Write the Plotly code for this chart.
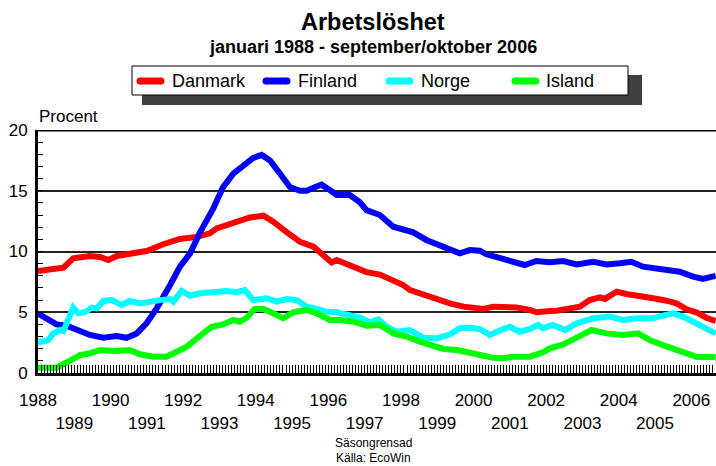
import plotly.graph_objects as go

# ---- data (decimal year, percent) ----
dk_t = [1988.0, 1988.3, 1988.7, 1988.97, 1989.2, 1989.43, 1989.71, 1989.94, 1990.17, 1990.53, 1990.99,
        1991.45, 1991.91, 1992.37, 1992.74, 1992.92, 1993.38, 1993.84, 1994.21, 1994.48, 1994.85, 1995.22,
        1995.59, 1995.95, 1996.09, 1996.23, 1996.50, 1996.78, 1997.05, 1997.42, 1997.70, 1998.06, 1998.25,
        1998.52, 1998.80, 1999.07, 1999.35, 1999.72, 2000.27, 2000.54, 2000.82, 2001.18, 2001.55, 2001.74,
        2002.11, 2002.29, 2002.66, 2002.93, 2003.20, 2003.48, 2003.62, 2003.94, 2004.21, 2004.58, 2004.95,
        2005.32, 2005.59, 2005.87, 2006.14, 2006.41, 2006.67]
dk_v = [8.4, 8.5, 8.67, 9.44, 9.5, 9.63, 9.55, 9.3, 9.63, 9.77, 10.04,
        10.6, 11.03, 11.2, 11.5, 11.9, 12.4, 12.8, 12.95, 12.45, 11.6, 10.8,
        10.4, 9.57, 9.1, 9.3, 9.0, 8.6, 8.3, 8.1, 7.74, 7.24, 6.83,
        6.56, 6.15, 6.0, 5.73, 5.46, 5.27, 5.46, 5.46, 5.4, 5.19, 5.0,
        5.1, 5.13, 5.32, 5.46, 6.0, 6.23, 6.1, 6.7, 6.5, 6.36, 6.15,
        5.95, 5.73, 5.24, 5.0, 4.55, 4.28]

fi_t = [1988.0, 1988.33, 1988.51, 1988.79, 1989.07, 1989.43, 1989.80, 1990.17, 1990.44, 1990.72, 1990.99,
        1991.27, 1991.64, 1991.91, 1992.19, 1992.46, 1992.83, 1993.10, 1993.38, 1993.66, 1993.93, 1994.16,
        1994.39, 1994.67, 1994.94, 1995.22, 1995.40, 1995.59, 1995.81, 1996.04, 1996.23, 1996.59, 1996.87,
        1997.05, 1997.42, 1997.79, 1998.06, 1998.34, 1998.70, 1999.07, 1999.44, 1999.62, 1999.90, 2000.17,
        2000.36, 2000.72, 2001.09, 2001.41, 2001.73, 2002.10, 2002.47, 2002.84, 2003.30, 2003.66, 2004.03,
        2004.35, 2004.67, 2005.13, 2005.68, 2006.05, 2006.32, 2006.67]
fi_v = [4.9, 4.28, 4.0, 3.9, 3.54, 3.13, 2.9, 3.05, 2.9, 3.26, 4.09,
        5.32, 7.24, 8.75, 9.85, 11.55, 13.55, 15.3, 16.4, 17.0, 17.7, 17.95,
        17.5, 16.4, 15.3, 15.0, 15.0, 15.25, 15.5, 15.06, 14.65, 14.65, 14.05,
        13.4, 13.0, 12.04, 11.85, 11.58, 10.95, 10.48, 9.99, 9.85, 10.12, 10.07,
        9.77, 9.49, 9.16, 8.89, 9.22, 9.11, 9.22, 8.94, 9.16, 8.94, 9.03,
        9.16, 8.75, 8.56, 8.34, 7.93, 7.74, 8.0]

no_t = [1988.0, 1988.28, 1988.42, 1988.61, 1988.7, 1988.84, 1988.97, 1989.11, 1989.29, 1989.48, 1989.62,
        1989.80, 1990.03, 1990.30, 1990.53, 1990.81, 1991.09, 1991.36, 1991.64, 1991.73, 1991.96, 1992.19,
        1992.46, 1992.83, 1993.19, 1993.47, 1993.70, 1993.93, 1994.30, 1994.57, 1994.85, 1995.13, 1995.40,
        1995.68, 1995.95, 1996.23, 1996.50, 1996.87, 1997.14, 1997.38, 1997.61, 1997.88, 1998.25, 1998.61,
        1998.98, 1999.35, 1999.62, 1999.90, 2000.17, 2000.45, 2000.82, 2001.00, 2001.27, 2001.55, 2001.78,
        2001.91, 2002.19, 2002.52, 2002.84, 2003.30, 2003.76, 2004.12, 2004.49, 2004.95, 2005.22, 2005.50,
        2005.77, 2006.05, 2006.32, 2006.67]
no_v = [2.5, 2.7, 3.26, 3.54, 3.45, 4.5, 5.38, 4.91, 5.0, 5.38, 5.32,
        5.93, 6.0, 5.6, 5.93, 5.73, 5.93, 6.0, 6.09, 5.87, 6.75, 6.36,
        6.56, 6.69, 6.75, 6.65, 6.83, 6.0, 6.15, 5.87, 6.09, 6.0, 5.46,
        5.27, 5.05, 5.0, 4.77, 4.55, 4.17, 4.42, 3.81, 3.4, 3.54, 2.91,
        2.85, 3.18, 3.68, 3.73, 3.62, 3.13, 3.62, 3.81, 3.4, 3.62, 3.95,
        3.68, 3.95, 3.54, 4.09, 4.5, 4.64, 4.36, 4.5, 4.5, 4.72, 4.91,
        4.64, 4.22, 3.81, 3.26]

is_t = [1988.0, 1988.51, 1988.79, 1989.16, 1989.43, 1989.71, 1990.08, 1990.35, 1990.53, 1990.81, 1991.18,
        1991.54, 1991.82, 1992.10, 1992.40, 1992.78, 1993.10, 1993.38, 1993.56, 1993.75, 1993.97, 1994.21,
        1994.48, 1994.76, 1995.03, 1995.40, 1995.68, 1996.04, 1996.32, 1996.69, 1997.05, 1997.42, 1997.79,
        1998.16, 1998.52, 1998.89, 1999.17, 1999.54, 1999.90, 2000.17, 2000.54, 2000.82, 2001.09, 2001.55,
        2001.73, 2001.91, 2002.10, 2002.47, 2002.84, 2003.25, 2003.66, 2004.12, 2004.53, 2004.85, 2005.22,
        2005.59, 2005.87, 2006.14, 2006.67]
is_v = [0.44, 0.44, 0.88, 1.48, 1.62, 1.89, 1.81, 1.81, 1.89, 1.54, 1.34,
        1.34, 1.76, 2.17, 2.9, 3.8, 4.0, 4.36, 4.22, 4.55, 5.27, 5.27,
        4.91, 4.5, 5.0, 5.19, 4.91, 4.36, 4.36, 4.22, 3.9, 3.95, 3.26,
        2.99, 2.58, 2.17, 1.98, 1.89, 1.62, 1.43, 1.26, 1.21, 1.34, 1.34,
        1.48, 1.7, 2.03, 2.36, 2.91, 3.54, 3.26, 3.13, 3.26, 2.72, 2.3,
        1.98, 1.62, 1.34, 1.29]

series_names = ["Danmark", "Finland", "Norge", "Island"]
series_colors = ["#ff0000", "#0000ff", "#00ffff", "#00ff00"]
years = list(range(1988, 2007))
tick_text = [str(y) if y % 2 == 0 else "<br>" + str(y) for y in years]

FONT = "Liberation Sans, Arial, Helvetica, sans-serif"
W, H = 716, 466
L, R, T, B = 38, 0, 130, 93
PW, PH = W - L - R, H - T - B

def px(xp):
    return (xp - L) / PW

def py(yp):
    return (H - B - yp) / PH

fig = go.Figure()
for name, col, t, v in zip(series_names, series_colors,
                           [dk_t, fi_t, no_t, is_t], [dk_v, fi_v, no_v, is_v]):
    fig.add_trace(go.Scatter(x=t, y=v, mode="lines", name=name,
                             line=dict(color=col, width=6), showlegend=False))

shapes = []
annotations = []

# top frame line at 20
shapes.append(dict(type="line", xref="paper", yref="y", x0=0, x1=1, y0=20, y1=20,
                   line=dict(color="black", width=3), layer="above"))

# legend box with shadow
shapes.append(dict(type="rect", xref="paper", yref="paper", x0=px(142), x1=px(642),
                   y0=py(105), y1=py(75), fillcolor="#404040", line=dict(width=0)))
shapes.append(dict(type="rect", xref="paper", yref="paper", x0=px(132), x1=px(628),
                   y0=py(95), y1=py(66), fillcolor="white", line=dict(color="black", width=1)))
leg_sym_x = [137, 263, 386, 512]
leg_txt_x = [170, 296, 419, 544]
for name, col, sx, tx in zip(series_names, series_colors, leg_sym_x, leg_txt_x):
    shapes.append(dict(type="line", xref="paper", yref="paper", x0=px(sx + 3), x1=px(sx + 24),
                       y0=py(81), y1=py(81), line=dict(color=col, width=7)))
    for cx in (sx + 3, sx + 24):
        shapes.append(dict(type="circle", xref="paper", yref="paper",
                           x0=px(cx - 3.5), x1=px(cx + 3.5), y0=py(84.5), y1=py(77.5),
                           fillcolor=col, line=dict(width=0)))
    annotations.append(dict(text=name, xref="paper", yref="paper", x=px(tx), y=py(81),
                            xanchor="left", yanchor="middle", showarrow=False,
                            font=dict(size=18, color="black", family=FONT)))

annotations += [
    dict(text="<b>Arbetslöshet</b>", xref="paper", yref="paper", x=px(373), y=py(22),
         xanchor="center", yanchor="middle", showarrow=False, font=dict(size=23.5, family=FONT, color="black")),
    dict(text="<b>januari 1988 - september/oktober 2006</b>", xref="paper", yref="paper", x=px(373), y=py(47),
         xanchor="center", yanchor="middle", showarrow=False, font=dict(size=18, family=FONT, color="black")),
    dict(text="Procent", xref="paper", yref="paper", x=px(37), y=py(117),
         xanchor="left", yanchor="middle", showarrow=False, font=dict(size=17, family=FONT, color="black")),
    dict(text="Säsongrensad", xref="paper", yref="paper", x=px(373), y=py(443),
         xanchor="center", yanchor="middle", showarrow=False, font=dict(size=12, family=FONT, color="black")),
    dict(text="Källa: EcoWin", xref="paper", yref="paper", x=px(373), y=py(458),
         xanchor="center", yanchor="middle", showarrow=False, font=dict(size=12, family=FONT, color="black")),
]

fig.update_layout(
    width=W, height=H, margin=dict(l=L, r=R, t=T, b=B, pad=0, autoexpand=False),
    paper_bgcolor="white", plot_bgcolor="white",
    font=dict(family=FONT, size=17, color="black"),
    shapes=shapes, annotations=annotations, showlegend=False,
    xaxis=dict(range=[1988.0, 2006.68], tickvals=years, ticktext=tick_text, tickangle=0,
               automargin=False,
               ticks="inside", ticklen=8, tickwidth=1, tickcolor="black",
               showgrid=False, zeroline=False, showline=True, linewidth=3, linecolor="black",
               ticklabelstandoff=10, tickfont=dict(size=17),
               minor=dict(ticks="inside", ticklen=8, tickwidth=1, tickcolor="black",
                          dtick=1 / 12, tick0=1988, showgrid=False)),
    yaxis=dict(range=[0, 20], tickvals=[0, 5, 10, 15, 20], ticks="inside", ticklen=5,
               automargin=False,
               tickwidth=1, tickcolor="black", showgrid=True, gridcolor="#222222", gridwidth=1.5,
               zeroline=False, showline=True, linewidth=3, linecolor="black",
               tickfont=dict(size=17), ticklabelstandoff=4,
               minor=dict(ticks="inside", ticklen=5, tickwidth=1, tickcolor="black", dtick=1,
                          showgrid=False)),
)

fig.write_html("out.html", config={"displayModeBar": False},
               post_script="document.body.style.margin='0';document.body.style.overflow='hidden';")
